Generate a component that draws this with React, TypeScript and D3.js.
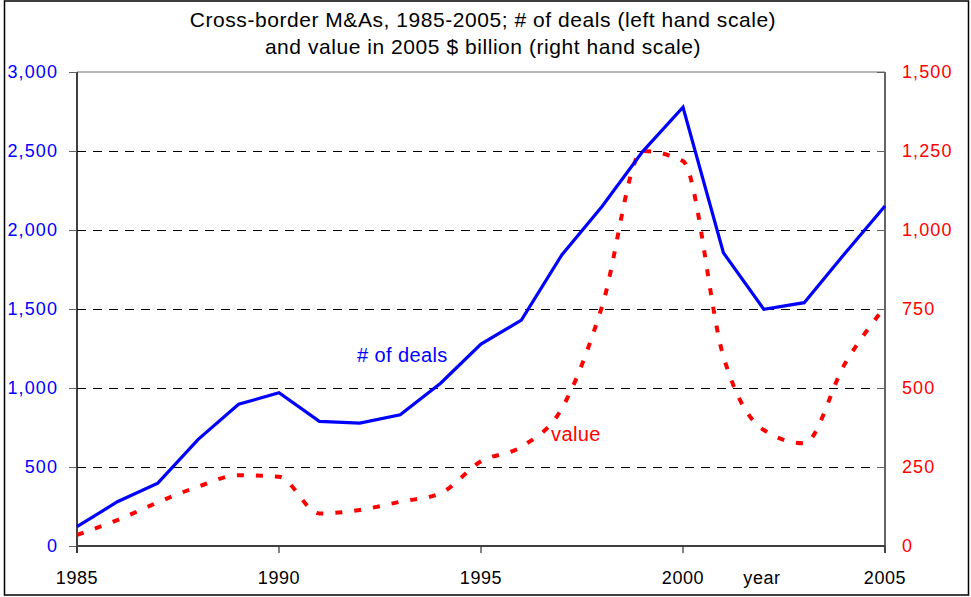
import React, { useEffect, useRef } from 'react';
import * as d3 from 'd3';

// years on the x axis
const years = [1985, 1986, 1987, 1988, 1989, 1990, 1991, 1992, 1993, 1994, 1995,
  1996, 1997, 1998, 1999, 2000, 2001, 2002, 2003, 2004, 2005];
// number of deals (left hand scale)
const deals = [122, 280, 398, 675, 897, 970, 789, 778, 831, 1030, 1278,
  1430, 1842, 2150, 2496, 2777, 1856, 1498, 1540, 1850, 2152];
// value in 2005 $ billion (right hand scale)
const value = [35, 82, 138, 188, 224, 219, 103, 114, 140, 167, 268,
  314, 435, 760, 1250, 1218, 600, 367, 325, 575, 757];

const leftTicks = [0, 500, 1000, 1500, 2000, 2500, 3000];
const rightTicks = [0, 250, 500, 750, 1000, 1250, 1500];
const yearTicks = [1985, 1990, 1995, 2000, 2005];

const FONT = '"Liberation Sans", Arial, sans-serif';

export default function App() {
  const ref = useRef<SVGSVGElement>(null);

  useEffect(() => {
    const svg = d3.select(ref.current);
    svg.selectAll('*').remove();

    const left = 77, right = 885, top = 72, bottom = 546;
    const x = d3.scaleLinear().domain([1985, 2005]).range([left, right]);
    const yL = d3.scaleLinear().domain([0, 3000]).range([bottom, top]);
    const yR = d3.scaleLinear().domain([0, 1500]).range([bottom, top]);
    const fmt = d3.format(',');

    // outer frame
    svg.append('rect')
      .attr('x', 4.5).attr('y', 1).attr('width', 964).attr('height', 594)
      .attr('fill', 'white').attr('stroke', '#000').attr('stroke-width', 1.5);

    // title
    const title = svg.append('text')
      .attr('text-anchor', 'middle').attr('font-family', FONT).attr('font-size', 21)
      .attr('letter-spacing', 0.55).attr('fill', '#000');
    title.append('tspan').attr('x', 483).attr('y', 27)
      .text('Cross-border M&As, 1985-2005; # of deals (left hand scale)');
    title.append('tspan').attr('x', 483).attr('y', 54)
      .text('and value in 2005 $ billion (right hand scale)');

    // grid lines
    svg.selectAll('.grid').data(leftTicks.filter(d => d > 0 && d < 3000)).join('line')
      .attr('class', 'grid')
      .attr('x1', left).attr('x2', right)
      .attr('y1', d => Math.round(yL(d)) + 0.5).attr('y2', d => Math.round(yL(d)) + 0.5)
      .attr('stroke', '#000').attr('stroke-width', 1)
      .attr('stroke-dasharray', '9 7');

    // plot top border
    svg.append('line').attr('x1', left).attr('x2', right).attr('y1', top).attr('y2', top)
      .attr('stroke', '#a0a0a0').attr('stroke-width', 1.5);

    // left axis
    svg.append('line').attr('x1', left).attr('x2', left).attr('y1', top).attr('y2', bottom + 7)
      .attr('stroke', '#000').attr('stroke-width', 1.5);
    svg.selectAll('.ltick').data(leftTicks).join('line')
      .attr('class', 'ltick')
      .attr('x1', left - 8).attr('x2', left)
      .attr('y1', d => Math.round(yL(d)) + 0.5).attr('y2', d => Math.round(yL(d)) + 0.5)
      .attr('stroke', '#606060').attr('stroke-width', 1);
    svg.selectAll('.llab').data(leftTicks).join('text')
      .attr('class', 'llab')
      .attr('x', 58).attr('y', d => yL(d)).attr('dy', '0.36em')
      .attr('text-anchor', 'end').attr('font-family', FONT).attr('font-size', 18)
      .attr('letter-spacing', 1.1).attr('fill', '#0000ff')
      .text(d => fmt(d));

    // right axis
    svg.append('line').attr('x1', right).attr('x2', right).attr('y1', top).attr('y2', bottom + 7)
      .attr('stroke', '#333').attr('stroke-width', 1.5);
    svg.selectAll('.rtick').data(rightTicks).join('line')
      .attr('class', 'rtick')
      .attr('x1', right - 8).attr('x2', right)
      .attr('y1', d => Math.round(yR(d)) + 0.5).attr('y2', d => Math.round(yR(d)) + 0.5)
      .attr('stroke', '#606060').attr('stroke-width', 1);
    svg.selectAll('.rlab').data(rightTicks).join('text')
      .attr('class', 'rlab')
      .attr('x', 902).attr('y', d => yR(d)).attr('dy', '0.36em')
      .attr('text-anchor', 'start').attr('font-family', FONT).attr('font-size', 18)
      .attr('letter-spacing', 1.1).attr('fill', '#ff0000')
      .text(d => fmt(d));

    // bottom axis
    svg.append('line').attr('x1', left).attr('x2', right).attr('y1', bottom).attr('y2', bottom)
      .attr('stroke', '#404040').attr('stroke-width', 2);
    svg.selectAll('.xtick').data(yearTicks).join('line')
      .attr('class', 'xtick')
      .attr('x1', d => x(d)).attr('x2', d => x(d))
      .attr('y1', bottom).attr('y2', bottom + 7)
      .attr('stroke', '#333').attr('stroke-width', 1.2);
    svg.selectAll('.xlab').data(yearTicks).join('text')
      .attr('class', 'xlab')
      .attr('x', d => x(d)).attr('y', 584)
      .attr('text-anchor', 'middle').attr('font-family', FONT).attr('font-size', 18)
      .attr('letter-spacing', 0.6).attr('fill', '#000')
      .text(d => String(d));
    svg.append('text')
      .attr('x', 762).attr('y', 584)
      .attr('text-anchor', 'middle').attr('font-family', FONT).attr('font-size', 18)
      .attr('letter-spacing', 0.6).attr('fill', '#000').text('year');

    // value line (smoothed, dashed red)
    const valueLine = d3.line<number>()
      .x((d, i) => x(years[i]))
      .y(d => yR(d))
      .curve(d3.curveMonotoneX);
    svg.append('path')
      .attr('d', valueLine(value))
      .attr('fill', 'none').attr('stroke', '#ff0000').attr('stroke-width', 4)
      .attr('stroke-dasharray', '7 12');

    // deals line (blue)
    const dealsLine = d3.line<number>()
      .x((d, i) => x(years[i]))
      .y(d => yL(d));
    svg.append('path')
      .attr('d', dealsLine(deals))
      .attr('fill', 'none').attr('stroke', '#0000ff').attr('stroke-width', 3.2)
      .attr('stroke-linejoin', 'miter');

    // inline labels
    svg.append('text').attr('x', 357).attr('y', 362)
      .attr('font-family', FONT).attr('font-size', 20).attr('letter-spacing', 0.4)
      .attr('fill', '#0000ff')
      .text('# of deals');
    svg.append('text').attr('x', 551).attr('y', 441)
      .attr('font-family', FONT).attr('font-size', 20).attr('letter-spacing', 0.4)
      .attr('fill', '#ff0000')
      .text('value');
  }, []);

  return (
    <svg ref={ref} width={971} height={597}
      style={{ position: 'absolute', left: 0, top: 0, background: 'white' }} />
  );
}
